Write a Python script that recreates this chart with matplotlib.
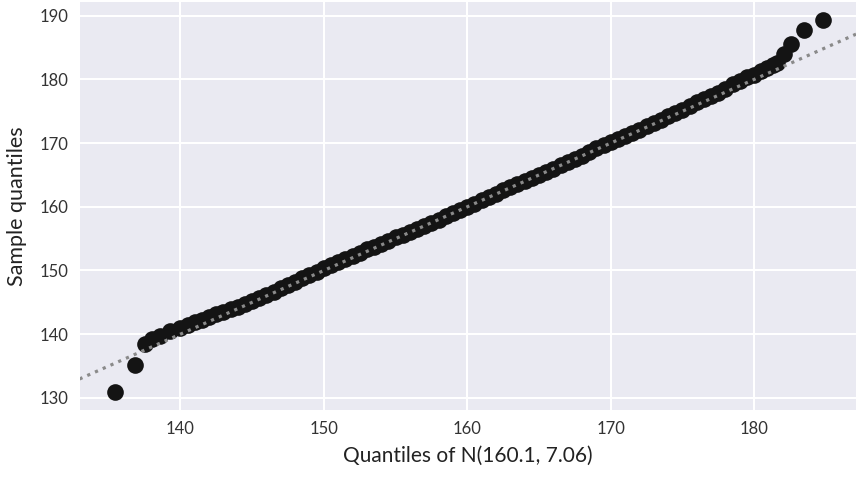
import matplotlib
matplotlib.use("Agg")
import matplotlib.pyplot as plt
import seaborn as sns

sns.set_style("darkgrid")
plt.rcParams['font.family'] = ['Lato', 'DejaVu Sans']

mu, sigma = 160.1, 7.06

theoretical_low = [135.46, 136.81, 137.5, 138.0, 138.6, 139.3]
sample_low = [131.0, 135.2, 138.4, 139.2, 139.7, 140.5]

theoretical_mid = [140.0, 140.5, 141.0, 141.5, 142.0, 142.5, 143.0, 143.5, 144.0, 144.5,
                   145.0, 145.5, 146.0, 146.5, 147.0, 147.5, 148.0, 148.5, 149.0, 149.5,
                   150.0, 150.5, 151.0, 151.5, 152.0, 152.5, 153.0, 153.5, 154.0, 154.5,
                   155.0, 155.5, 156.0, 156.5, 157.0, 157.5, 158.0, 158.5, 159.0, 159.5,
                   160.0, 160.5, 161.0, 161.5, 162.0, 162.5, 163.0, 163.5, 164.0, 164.5,
                   165.0, 165.5, 166.0, 166.5, 167.0, 167.5, 168.0, 168.5, 169.0, 169.5,
                   170.0, 170.5, 171.0, 171.5, 172.0, 172.5, 173.0, 173.5, 174.0, 174.5,
                   175.0, 175.5, 176.0, 176.5, 177.0, 177.5, 178.0]
sample_mid = [141.0, 141.4, 141.9, 142.3, 142.7, 143.1, 143.5, 143.9, 144.3, 144.7,
              145.2, 145.7, 146.2, 146.7, 147.2, 147.7, 148.2, 148.8, 149.3, 149.8,
              150.4, 150.9, 151.3, 151.8, 152.3, 152.8, 153.3, 153.7, 154.2, 154.7,
              155.2, 155.6, 156.1, 156.5, 157.0, 157.5, 158.0, 158.5, 159.0, 159.5,
              160.0, 160.5, 161.0, 161.5, 162.0, 162.6, 163.1, 163.5, 164.0, 164.5,
              165.0, 165.5, 166.0, 166.6, 167.1, 167.5, 168.0, 168.6, 169.2, 169.7,
              170.2, 170.6, 171.1, 171.6, 172.1, 172.7, 173.2, 173.7, 174.2, 174.8,
              175.2, 175.8, 176.5, 177.0, 177.4, 177.9, 178.5]

theoretical_high = [178.5, 179.0, 179.5, 180.0, 180.5, 180.9, 181.3, 181.6, 182.05, 182.6, 183.5, 184.8]
sample_high = [179.2, 179.8, 180.3, 180.7, 181.3, 181.8, 182.3, 182.6, 184.0, 185.5, 187.7, 189.3]

x_ticks = [140, 150, 160, 170, 180]
y_ticks = [130, 140, 150, 160, 170, 180, 190]

theoretical = theoretical_low + theoretical_mid + theoretical_high
sample = sample_low + sample_mid + sample_high

fig = plt.figure(figsize=(8.58, 4.78), dpi=100)
ax = fig.add_axes([0.0927, 0.1423, 0.9050, 0.8535])
ax.set_facecolor('#EAEAF2')

ax.plot(theoretical, sample, 'o', color='#141414', markersize=12, markeredgewidth=0, zorder=2)
ax.axline((mu, mu), slope=1, linestyle=':', color='#8a8a8a', linewidth=2.3, zorder=3)

ax.set_xlim(132.97, 187.1)
ax.set_ylim(128.1, 192.15)
ax.set_xticks(x_ticks)
ax.set_yticks(y_ticks)
ax.tick_params(axis='both', labelsize=12, colors='#333333', length=0, pad=8)
ax.grid(True, color='white', linewidth=1.5)
for s in ax.spines.values():
    s.set_visible(False)

ax.set_xlabel('Quantiles of N(%.1f, %.2f)' % (mu, sigma), fontsize=15, color='#222222', labelpad=6)
ax.set_ylabel('Sample quantiles', fontsize=15.5, color='#222222', labelpad=9)

fig.savefig('out.png', dpi=100)
